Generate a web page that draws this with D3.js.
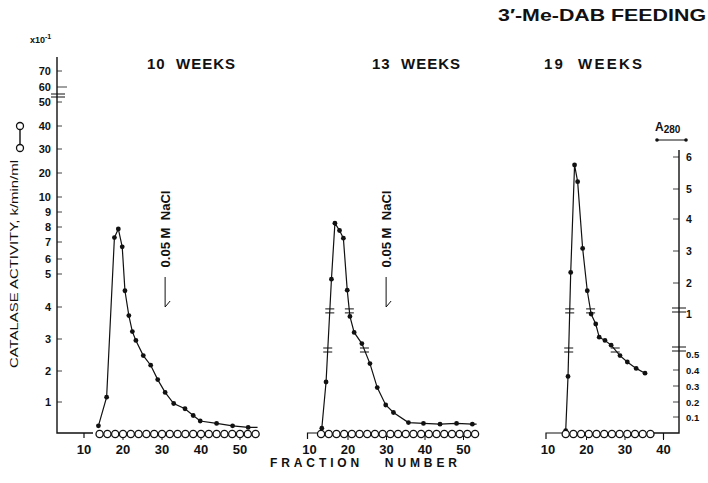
<!DOCTYPE html>
<html>
<head>
<meta charset="utf-8">
<script src="https://cdn.jsdelivr.net/npm/d3@7"></script>
<style>
  body { margin: 0; background: #fff; }
  text { font-family: "Liberation Sans", Arial, sans-serif; font-weight: bold; fill: #111; }
</style>
</head>
<body>
<div id="chart"></div>
<script>
// ---- data ----
const panelTitles = ['10  WEEKS', '13  WEEKS', '19  WEEKS'];

// A280 (filled dots), fraction number vs absorbance
const frac10 = [13.7, 15.8, 17.8, 18.8, 19.8, 20.5, 21.5, 22.4, 23.3, 25.2, 27.1, 28.9, 30.8, 33, 35.9, 38, 39.8, 44, 48.1, 52.1];
const a280_10 = [0.045, 0.23, 3.42, 3.69, 3.13, 1.75, 0.98, 0.78, 0.67, 0.49, 0.43, 0.34, 0.26, 0.19, 0.155, 0.11, 0.075, 0.06, 0.045, 0.035];
const frac13 = [13.2, 14.3, 15.7, 16.6, 17.8, 18.8, 19.8, 20.5, 21.6, 23.6, 25.7, 27.6, 29.8, 31.8, 35.7, 39.6, 43.9, 48.2, 52.3];
const a280_13 = [0.03, 0.325, 2.12, 3.87, 3.64, 3.4, 1.77, 0.97, 0.77, 0.63, 0.44, 0.29, 0.18, 0.13, 0.065, 0.06, 0.055, 0.06, 0.055];
const frac19 = [14.6, 15.2, 15.9, 16.9, 17.7, 19, 20.2, 21.2, 22.4, 23.3, 24.8, 26.4, 28.7, 30.6, 32.9, 35.2];
const a280_19 = [0.015, 0.36, 2.33, 5.75, 5.23, 3.08, 1.75, 1.0, 0.875, 0.71, 0.67, 0.61, 0.49, 0.45, 0.41, 0.38];
// line runs on a little past the last dot
const tailFrac = [54.5, 53.4, null];

// catalase activity (open circles)
const catFrac10 = [14, 16, 18, 20, 22, 24, 26, 28, 30, 32, 34, 36, 38, 40, 42, 44, 46, 48, 50, 52, 54];
const cat10 = [0, 0, 0, 0, 0, 0, 0, 0, 0, 0, 0, 0, 0, 0, 0, 0, 0, 0, 0, 0, 0];
const catFrac13 = [13, 15, 17, 19, 21, 23, 25, 27, 29, 31, 33, 35, 37, 39, 41, 43, 45, 47, 49, 51, 53];
const cat13 = [0, 0, 0, 0, 0, 0, 0, 0, 0, 0, 0, 0, 0, 0, 0, 0, 0, 0, 0, 0, 0];
const catFrac19 = [14.6, 16.6, 18.6, 20.6, 22.6, 24.6, 26.6, 28.6, 30.6, 32.6, 34.6, 36.6];
const cat19 = [0, 0, 0, 0, 0, 0, 0, 0, 0, 0, 0, 0];

// 0.05 M NaCl step, fraction number
const saltFrac = [30.8, 29.9, null];

// axis ticks
const catTicks = [1, 2, 3, 4, 5, 6, 7, 8, 9, 10, 20, 30, 40, 50, 60, 70];
const a280Ticks = [0.1, 0.2, 0.3, 0.4, 0.5, 1, 2, 3, 4, 5, 6];
const xTicks10 = [10, 20, 30, 40, 50];
const xTicks13 = [10, 20, 30, 40, 50];
const xTicks19 = [10, 20, 30, 40];
const breakLevels = [1.1, 0.55];

// ---- layout ----
const width = 708, height = 483;
const baseY = 433;

const svg = d3.select('#chart').append('svg')
  .attr('width', width).attr('height', height);

// hand-drawn, broken scales -> piecewise linear
const yCat = d3.scaleLinear()
  .domain([0, 1, 2, 3, 4, 5, 6, 7, 8, 9, 10, 20, 30, 40, 50, 60, 70])
  .range([baseY, 402, 371, 339, 307, 274, 259, 242, 227, 212, 197, 173, 149, 126, 102, 87, 71]);
const yA = d3.scaleLinear()
  .domain([0, 0.1, 0.2, 0.3, 0.4, 0.5, 1, 2, 3, 4, 5, 6])
  .range([baseY, 417, 402, 386, 370, 354, 314, 283, 251, 219, 189, 157]);

const panels = [
  { title: panelTitles[0], titleX: 147, x: d3.scaleLinear().domain([10, 50]).range([84, 240]),
    frac: frac10, a: a280_10, tail: tailFrac[0], catF: catFrac10, cat: cat10, ticks: xTicks10, breaks: false, salt: saltFrac[0] },
  { title: panelTitles[1], titleX: 372, x: d3.scaleLinear().domain([10, 50]).range([309.5, 463.5]),
    frac: frac13, a: a280_13, tail: tailFrac[1], catF: catFrac13, cat: cat13, ticks: xTicks13, breaks: true, salt: saltFrac[1] },
  { title: panelTitles[2], titleX: 544, x: d3.scaleLinear().domain([10, 40]).range([548, 663.5]),
    frac: frac19, a: a280_19, tail: tailFrac[2], catF: catFrac19, cat: cat19, ticks: xTicks19, breaks: true, salt: saltFrac[2] }
];

// ---- title & header text ----
svg.append('text').attr('x', 498).attr('y', 21)
  .attr('textLength', 208).attr('lengthAdjust', 'spacingAndGlyphs')
  .style('font-size', '17px').text('3\u2032-Me-DAB FEEDING');

svg.append('text').attr('x', 30).attr('y', 43).style('font-size', '9px')
  .text('x10').append('tspan').attr('dy', -4).style('font-size', '7px').text('-1');

// ---- left (catalase) axis ----
const gL = svg.append('g');
gL.append('path')
  .attr('d', `M57,57 V${baseY} H93`)
  .attr('fill', 'none').attr('stroke', '#111').attr('stroke-width', 1.4);
gL.selectAll('.tk').data(catTicks).enter().append('line')
  .attr('x1', 57).attr('x2', d => d === 60 ? 67 : 62)
  .attr('y1', d => yCat(d)).attr('y2', d => yCat(d))
  .attr('stroke', '#111').attr('stroke-width', 0.8);
gL.selectAll('.lb').data(catTicks).enter().append('text')
  .attr('x', 51).attr('y', d => yCat(d) + 4)
  .attr('text-anchor', 'end').style('font-size', '11px')
  .text(d => d);
[94, 97].forEach(y => gL.append('line')
  .attr('x1', 51).attr('x2', 65).attr('y1', y).attr('y2', y)
  .attr('stroke', '#111').attr('stroke-width', 1));

// y label + open-circle legend
svg.append('text')
  .attr('transform', 'translate(18,264) rotate(-90)')
  .attr('text-anchor', 'middle')
  .attr('textLength', 208).attr('lengthAdjust', 'spacingAndGlyphs')
  .style('font-size', '11.5px').style('font-weight', 'normal')
  .text('CATALASE ACTIVITY, k/min/ml');
svg.append('line').attr('x1', 20).attr('x2', 20).attr('y1', 126).attr('y2', 148)
  .attr('stroke', '#111').attr('stroke-width', 1.4);
[126, 148].forEach(y => svg.append('circle').attr('cx', 20).attr('cy', y).attr('r', 3.5)
  .attr('fill', '#fff').attr('stroke', '#111').attr('stroke-width', 1.3));

// ---- right (A280) axis ----
const gR = svg.append('g');
gR.append('path')
  .attr('d', `M679,150 V${baseY} H652`)
  .attr('fill', 'none').attr('stroke', '#111').attr('stroke-width', 1.4);
gR.selectAll('.tk').data(a280Ticks.filter(d => d !== 0.5 && d !== 1)).enter().append('line')
  .attr('x1', 673).attr('x2', 679)
  .attr('y1', d => yA(d)).attr('y2', d => yA(d))
  .attr('stroke', '#111').attr('stroke-width', 0.8);
gR.selectAll('.lb').data(a280Ticks).enter().append('text')
  .attr('x', 686).attr('y', d => yA(d) + 4)
  .style('font-size', d => d < 1 ? '9.5px' : '10.5px')
  .text(d => d);
[308, 312, 347, 351].forEach(y => gR.append('line')
  .attr('x1', 672).attr('x2', 686).attr('y1', y).attr('y2', y)
  .attr('stroke', '#111').attr('stroke-width', 1));
gR.append('line').attr('x1', 663.5).attr('x2', 663.5).attr('y1', baseY).attr('y2', baseY + 6)
  .attr('stroke', '#111').attr('stroke-width', 1.2);

const a280Label = svg.append('text').attr('x', 655).attr('y', 131).style('font-size', '12px');
a280Label.append('tspan').text('A');
a280Label.append('tspan').attr('dy', 2).style('font-size', '10px').text('280');
svg.append('line').attr('x1', 657).attr('x2', 686).attr('y1', 140).attr('y2', 140)
  .attr('stroke', '#111').attr('stroke-width', 1);
[657, 686].forEach(x => svg.append('circle').attr('cx', x).attr('cy', 140).attr('r', 1.8).attr('fill', '#111'));

// ---- panels ----
const line = d3.line().x(d => d[0]).y(d => d[1]);

panels.forEach((p, i) => {
  const g = svg.append('g');
  const x = p.x;

  g.append('text').attr('x', p.titleX).attr('y', 69)
    .attr('textLength', i === 2 ? 98 : 88).attr('lengthAdjust', 'spacing')
    .style('font-size', '15px')
    .attr('xml:space', 'preserve').text(p.title);

  // x axis bits: start bracket, ticks, labels
  if (i > 0) {
    g.append('path')
      .attr('d', `M${x(10) - 2},${baseY + 6} V${baseY} H${x(p.catF[0]) - 3}`)
      .attr('fill', 'none').attr('stroke', '#111').attr('stroke-width', 1.2);
  } else {
    g.append('line').attr('x1', x(10)).attr('x2', x(10)).attr('y1', baseY).attr('y2', baseY + 5)
      .attr('stroke', '#111').attr('stroke-width', 1.2);
  }
  g.selectAll('.xt').data(p.ticks.filter(d => d > 10)).enter().append('line')
    .attr('x1', d => x(d)).attr('x2', d => x(d))
    .attr('y1', baseY + 3).attr('y2', baseY + 7)
    .attr('stroke', '#111').attr('stroke-width', 1);
  g.selectAll('.xl').data(p.ticks).enter().append('text')
    .attr('x', d => x(d)).attr('y', 454)
    .attr('text-anchor', 'middle').style('font-size', '13px')
    .text(d => d);

  // A280 curve
  const pts = p.frac.map((f, j) => [x(f), yA(p.a[j])]);
  const linePts = p.tail ? pts.concat([[x(p.tail), yA(p.a[p.a.length - 1])]]) : pts;
  g.append('path').attr('d', line(linePts))
    .attr('fill', 'none').attr('stroke', '#111').attr('stroke-width', 1.2);
  g.selectAll('.dot').data(pts).enter().append('circle')
    .attr('cx', d => d[0]).attr('cy', d => d[1]).attr('r', 2.4).attr('fill', '#111');

  // scale-break marks where the curve passes the breaks of the A280 axis
  if (p.breaks) {
    breakLevels.forEach(lv => {
      const yb = yA(lv);
      for (let j = 1; j < pts.length; j++) {
        const [x0, y0] = pts[j - 1], [x1, y1] = pts[j];
        if ((y0 - yb) * (y1 - yb) < 0) {
          const xb = x0 + (x1 - x0) * (yb - y0) / (y1 - y0);
          [-2, 2].forEach(o => g.append('line')
            .attr('x1', xb - 4.5).attr('x2', xb + 4.5).attr('y1', yb + o).attr('y2', yb + o)
            .attr('stroke', '#111').attr('stroke-width', 1));
        }
      }
    });
  }

  // catalase open circles
  g.selectAll('.cat').data(p.catF).enter().append('circle')
    .attr('cx', d => x(d)).attr('cy', (d, j) => yCat(p.cat[j]) + 1)
    .attr('r', 3.6).attr('fill', '#fff').attr('stroke', '#111').attr('stroke-width', 1.3);

  // 0.05 M NaCl marker
  if (p.salt !== null) {
    const sx = x(p.salt);
    g.append('text')
      .attr('transform', `translate(${sx + 5},229) rotate(-90)`)
      .attr('text-anchor', 'middle').style('font-size', '12px')
      .attr('textLength', 77).attr('lengthAdjust', 'spacingAndGlyphs')
      .attr('xml:space', 'preserve').text('0.05 M  NaCl');
    g.append('path').attr('d', `M${sx},277 V307 L${sx + 5},301`)
      .attr('fill', 'none').attr('stroke', '#111').attr('stroke-width', 1);
  }
});

svg.append('text').attr('x', 270).attr('y', 467)
  .attr('textLength', 187).attr('lengthAdjust', 'spacing')
  .attr('xml:space', 'preserve')
  .style('font-size', '12px').text('FRACTION   NUMBER');
</script>
</body>
</html>
